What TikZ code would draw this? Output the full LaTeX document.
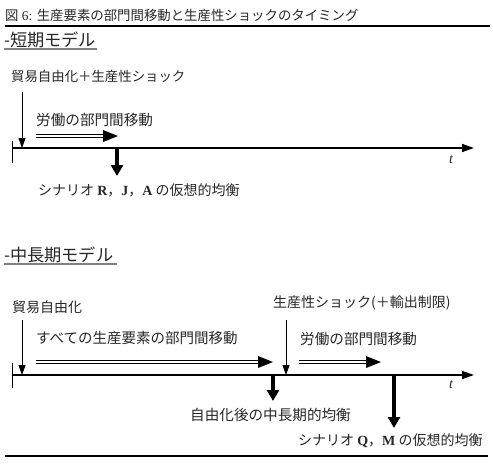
\documentclass[tikz,border=0pt]{standalone}
\usepackage{fontspec}
\setmainfont{Liberation Serif}
\newfontfamily\jp{Noto Sans CJK JP}
\newcommand\latn[1]{{\rmfamily\bfseries #1}}
\usetikzlibrary{arrows.meta}
\begin{document}
\begin{tikzpicture}[x=1pt,y=-1pt,
  every node/.style={text=black!85},
  lbl/.style={anchor=west,inner sep=0pt,font=\jp\fontsize{14}{14}\selectfont},
  headline/.style={anchor=west,inner sep=0pt,font=\jp\fontsize{17.2}{17.2}\selectfont},
  tlabel/.style={inner sep=0pt,font=\rmfamily\itshape\fontsize{14}{14}\selectfont},
  axisline/.style={line width=1.4pt,-{Triangle[length=12pt,width=8pt]}},
  tickline/.style={line width=1pt},
  thinarrow/.style={line width=0.9pt,-{Triangle[length=10pt,width=7pt]}},
  fatarrow/.style={line width=3.5pt,-{Triangle[length=11pt,width=12pt]}},
  shaft/.style={double,double distance=2.4pt,line width=1.1pt},
  shafthead/.style={fill=black},
  rule/.style={line width=2.4pt},
  underrule/.style={line width=1.5pt,gray}
]
\useasboundingbox (0,0) rectangle (493,474);

% caption and rules
\node[anchor=west,inner sep=0pt,font=\fontsize{13.4}{13.4}\selectfont] (cap) at (5,15)
  {{\jp 図} 6: {\jp 生産要素の部門間移動と生産性ショックのタイミング}};
\draw[rule] (5,26) -- (490,26);
\draw[rule] (5,456) -- (488,456);

% ---------- short-run model ----------
\node[headline] (h1) at (4,40) {-短期モデル};
\draw[underrule] (4,49) -- (97,49);

\coordinate (o1) at (12,148);
\coordinate (e1) at (474,148);
\draw[axisline] (o1) -- (e1);
\coordinate (t1a) at (12,141);
\coordinate (t1b) at (12,163);
\draw[tickline] (t1a) -- (t1b);
\node[tlabel] (t1) at (451,160) {t};

\node[lbl,font=\jp\fontsize{13.4}{13.4}\selectfont] (s1) at (11,76) {貿易自由化＋生産性ショック};
\coordinate (s1a) at (22,92);
\coordinate (s1b) at (22,148);
\draw[thinarrow] (s1a) -- (s1b);

\node[lbl,font=\jp\fontsize{14.6}{14.6}\selectfont] (m1) at (36,120) {労働の部門間移動};
\coordinate (m1a) at (36,136);
\coordinate (m1b) at (104,136);
\coordinate (m1t) at (118,136);
\draw[shaft] (m1a) -- (m1b);
\fill[shafthead] (m1t) -- ++(-15,-6) -- ++(0,12) -- cycle;

\coordinate (q1a) at (117,148);
\coordinate (q1b) at (117,176);
\draw[fatarrow] (q1a) -- (q1b);
\node[lbl] (r1) at (38,190) {シナリオ \latn{R}{\jp ，}\latn{J}{\jp ，}\latn{A} の仮想的均衡};

% ---------- medium/long-run model ----------
\node[headline] (h2) at (4,255) {-中長期モデル};
\draw[underrule] (4,264) -- (117,264);

\coordinate (o2) at (12,375);
\coordinate (e2) at (474,375);
\draw[axisline] (o2) -- (e2);
\coordinate (t2a) at (12,363);
\coordinate (t2b) at (12,388);
\draw[tickline] (t2a) -- (t2b);
\node[tlabel] (t2) at (451,385) {t};

\node[lbl] (s2) at (12,307) {貿易自由化};
\coordinate (s2a) at (22,320);
\coordinate (s2b) at (22,375);
\draw[thinarrow] (s2a) -- (s2b);

\node[lbl,font=\jp\fontsize{14.5}{14.5}\selectfont] (m2) at (36,338) {すべての生産要素の部門間移動};
\coordinate (m2a) at (36,362);
\coordinate (m2b) at (259,362);
\coordinate (m2t) at (273,362);
\draw[shaft] (m2a) -- (m2b);
\fill[shafthead] (m2t) -- ++(-15,-6) -- ++(0,12) -- cycle;

\coordinate (q2a) at (273,375);
\coordinate (q2b) at (273,401);
\draw[fatarrow] (q2a) -- (q2b);
\node[lbl,font=\jp\fontsize{14.6}{14.6}\selectfont] (r2) at (190,415) {自由化後の中長期的均衡};

\node[lbl] (s3) at (273,303) {生産性ショック(＋輸出制限)};
\coordinate (s3a) at (286,320);
\coordinate (s3b) at (286,375);
\draw[thinarrow] (s3a) -- (s3b);

\node[lbl,font=\jp\fontsize{14.6}{14.6}\selectfont] (m3) at (300,339) {労働の部門間移動};
\coordinate (m3a) at (299,362);
\coordinate (m3b) at (367,362);
\coordinate (m3t) at (381,362);
\draw[shaft] (m3a) -- (m3b);
\fill[shafthead] (m3t) -- ++(-15,-6) -- ++(0,12) -- cycle;

\coordinate (q3a) at (394,375);
\coordinate (q3b) at (394,428);
\draw[fatarrow] (q3a) -- (q3b);
\node[lbl] (r3) at (298,441) {シナリオ \latn{Q}{\jp ，}\latn{M} の仮想的均衡};
\end{tikzpicture}
\end{document}
